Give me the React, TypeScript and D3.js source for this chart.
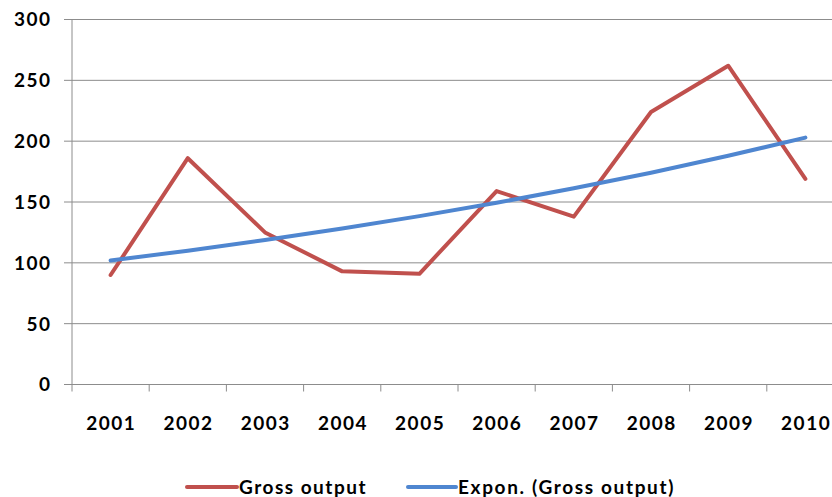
import React from "react";
import * as d3 from "d3";

const years = ["2001","2002","2003","2004","2005","2006","2007","2008","2009","2010"];
const grossOutput = [90, 186, 125, 93, 91, 159, 138, 224, 262, 169];
const exponTrend = [101.9, 110.0, 118.8, 128.2, 138.4, 149.4, 161.3, 174.1, 188.0, 202.9];
const yTicks = [0, 50, 100, 150, 200, 250, 300];

const W = 832, H = 497;
const FONT = "Lato, 'Open Sans', sans-serif";

export default function App() {
  const x = d3.scaleBand<string>().domain(years).range([72, 844]).padding(0);
  const y = d3.scaleLinear().domain([0, 300]).range([384.5, 19.5]);
  const cx = (d: string) => (x(d) as number) + x.bandwidth() / 2;
  const line = d3.line<number>().x((_, i) => cx(years[i])).y((v) => y(v));
  const boundaries = years.map((d) => x(d) as number);
  return (
    <svg width={W} height={H} style={{ position: "absolute", left: 0, top: 0, background: "#fff" }}>
      {yTicks.map((t) => (
        <g key={t}>
          {t > 0 && <line x1={72} x2={W} y1={y(t)} y2={y(t)} stroke="#8c8c8c" strokeWidth={1} />}
          <line x1={64} x2={72} y1={y(t)} y2={y(t)} stroke="#8c8c8c" strokeWidth={1} />
          <text x={51.5} y={y(t)} dy="0.36em" textAnchor="end" fontFamily={FONT} fontWeight="bold" fontSize={19} letterSpacing={1.5} fill="#000">{t}</text>
        </g>
      ))}
      <line x1={72} x2={72} y1={y(300)} y2={y(0)} stroke="#8c8c8c" strokeWidth={1} />
      <line x1={64} x2={W} y1={y(0)} y2={y(0)} stroke="#8c8c8c" strokeWidth={1} />
      {boundaries.map((b, i) => (
        <line key={i} x1={b} x2={b} y1={y(0)} y2={y(0) + 7} stroke="#8c8c8c" strokeWidth={1} />
      ))}
      {years.map((d) => (
        <text key={d} x={cx(d) + 0.75} y={430} textAnchor="middle" fontFamily={FONT} fontWeight="bold" fontSize={19} letterSpacing={1.5} fill="#000">{d}</text>
      ))}
      <path d={line(grossOutput) || ""} fill="none" stroke="#C0504D" strokeWidth={4} strokeLinejoin="round" strokeLinecap="round" />
      <path d={line(exponTrend) || ""} fill="none" stroke="#4F86D0" strokeWidth={4} strokeLinecap="round" />
      <g>
        <line x1={187} x2={237} y1={487} y2={487} stroke="#C0504D" strokeWidth={4} strokeLinecap="round" />
        <text x={239} y={487} dy="0.36em" fontFamily={FONT} fontWeight="bold" fontSize={19} letterSpacing={1.5} fill="#000">Gross output</text>
        <line x1={408} x2={456} y1={487} y2={487} stroke="#4F86D0" strokeWidth={4} strokeLinecap="round" />
        <text x={458} y={487} dy="0.36em" fontFamily={FONT} fontWeight="bold" fontSize={19} letterSpacing={1.65} fill="#000">Expon. (Gross output)</text>
      </g>
    </svg>
  );
}
